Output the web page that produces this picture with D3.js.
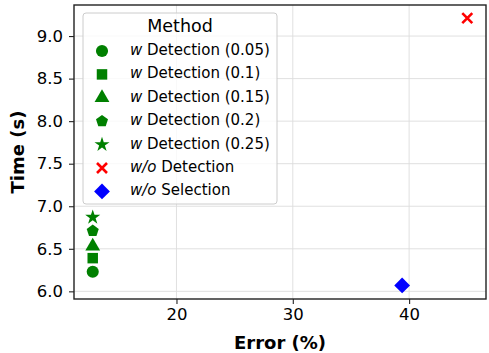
<!DOCTYPE html>
<html>
<head>
<meta charset="utf-8">
<script src="https://cdn.jsdelivr.net/npm/d3@7"></script>
<style>
  body { margin: 0; background: #fff; }
  text { font-family: "DejaVu Sans", sans-serif; fill: #000; }
</style>
</head>
<body>
<svg id="chart" width="489" height="353"></svg>
<script>
let svg = d3.select("#chart")

// data
let methods = [
  "w Detection (0.05)",
  "w Detection (0.1)",
  "w Detection (0.15)",
  "w Detection (0.2)",
  "w Detection (0.25)",
  "w/o Detection",
  "w/o Selection"
]
let errors = [12.8, 12.8, 12.8, 12.8, 12.8, 45.0, 39.4]
let times = [6.23, 6.39, 6.53, 6.71, 6.87, 9.21, 6.07]
let colors = ["green", "green", "green", "green", "green", "red", "blue"]
let shapes = ["circle", "square", "triangle", "pentagon", "star", "x", "diamond"]

let xTicks = [20, 30, 40]
let yTicks = [6.0, 6.5, 7.0, 7.5, 8.0, 8.5, 9.0]

let margin = { top: 5, right: 3, bottom: 54, left: 74 }
let width = 489, height = 353

let x = d3.scaleLinear()
    .domain([11.19, 46.61])
    .range([margin.left, width - margin.right])

let y = d3.scaleLinear()
    .domain([5.91, 9.365])
    .range([height - margin.bottom, margin.top])

// custom marker shapes
let pentagon = {
  draw(ctx, size) {
    let r = Math.sqrt(size / 2.378)
    for (let i = 0; i < 5; i++) {
      let a = -Math.PI / 2 + i * 2 * Math.PI / 5
      let px = r * Math.cos(a), py = r * Math.sin(a)
      if (i == 0) ctx.moveTo(px, py); else ctx.lineTo(px, py)
    }
    ctx.closePath()
  }
}
let diamond = {
  draw(ctx, size) {
    let r = Math.sqrt(size / 2)
    ctx.moveTo(0, -r); ctx.lineTo(r, 0); ctx.lineTo(0, r); ctx.lineTo(-r, 0)
    ctx.closePath()
  }
}
let cross = {
  draw(ctx, size) {
    let r = Math.sqrt(size) / 2
    ctx.moveTo(-r, -r); ctx.lineTo(r, r)
    ctx.moveTo(-r, r); ctx.lineTo(r, -r)
  }
}

function markerPath(shape) {
  if (shape == "circle") return d3.symbol(d3.symbolCircle, 115)()
  if (shape == "square") return d3.symbol(d3.symbolSquare, 110)()
  if (shape == "triangle") return d3.symbol(d3.symbolTriangle, 95)()
  if (shape == "pentagon") return d3.symbol(pentagon, 95)()
  if (shape == "star") return d3.symbol(d3.symbolStar, 70)()
  if (shape == "x") return d3.symbol(cross, 100)()
  if (shape == "diamond") return d3.symbol(diamond, 125)()
}

function drawMarker(g, shape, color) {
  let p = g.append("path").attr("d", markerPath(shape))
  if (shape == "x") {
    p.attr("fill", "none").attr("stroke", color).attr("stroke-width", 2.6)
  } else {
    p.attr("fill", color)
  }
}

// grid
let grid = svg.append("g")
grid.selectAll(".gx").data(xTicks).join("line")
    .attr("x1", d => x(d)).attr("x2", d => x(d))
    .attr("y1", margin.top).attr("y2", height - margin.bottom)
    .attr("stroke", "#dcdcdc").attr("stroke-width", 0.9)
grid.selectAll(".gy").data(yTicks).join("line")
    .attr("y1", d => y(d)).attr("y2", d => y(d))
    .attr("x1", margin.left).attr("x2", width - margin.right)
    .attr("stroke", "#dcdcdc").attr("stroke-width", 0.9)

// axes
let xAxis = svg.append("g")
    .attr("transform", `translate(0,${height - margin.bottom})`)
    .call(d3.axisBottom(x).tickValues(xTicks).tickSize(5).tickPadding(4).tickFormat(d3.format("d")))
xAxis.select(".domain").remove()
xAxis.selectAll("text").style("font-size", "16.5px").style("font-family", "DejaVu Sans")
xAxis.selectAll("line").attr("stroke", "#222").attr("stroke-width", 1.1)

let yAxis = svg.append("g")
    .attr("transform", `translate(${margin.left},0)`)
    .call(d3.axisLeft(y).tickValues(yTicks).tickSize(5).tickPadding(6).tickFormat(d3.format(".1f")))
yAxis.select(".domain").remove()
yAxis.selectAll("text").style("font-size", "16.5px").style("font-family", "DejaVu Sans")
yAxis.selectAll("line").attr("stroke", "#222").attr("stroke-width", 1.1)

// points
let pts = svg.append("g")
methods.forEach((m, i) => {
  let g = pts.append("g").attr("transform", `translate(${x(errors[i])},${y(times[i])})`)
  drawMarker(g, shapes[i], colors[i])
})

// frame
svg.append("rect")
    .attr("x", margin.left).attr("y", margin.top)
    .attr("width", width - margin.right - margin.left)
    .attr("height", height - margin.bottom - margin.top)
    .attr("fill", "none").attr("stroke", "#222").attr("stroke-width", 1.4)

// legend
let legend = svg.append("g")
legend.append("rect")
    .attr("x", 83).attr("y", 13).attr("width", 194).attr("height", 191)
    .attr("rx", 3)
    .attr("fill", "white").attr("fill-opacity", 0.8)
    .attr("stroke", "#cccccc").attr("stroke-width", 1)
legend.append("text")
    .attr("x", 180).attr("y", 32)
    .attr("text-anchor", "middle")
    .style("font-size", "17.5px")
    .text("Method")

methods.forEach((m, i) => {
  let rowY = 51 + i * 23.4
  let g = legend.append("g").attr("transform", `translate(102,${rowY})`)
  drawMarker(g, shapes[i], colors[i])
  let t = legend.append("text")
      .attr("x", 130).attr("y", rowY + 4)
      .style("font-size", "15px")
  let parts = m.split(" ")
  t.append("tspan").style("font-style", "italic").text(parts[0])
  t.append("tspan").text(" " + parts.slice(1).join(" "))
})

// axis labels
svg.append("text")
    .attr("x", (margin.left + width - margin.right) / 2)
    .attr("y", 349)
    .attr("text-anchor", "middle")
    .style("font-size", "18px").style("font-weight", "bold")
    .text("Error (%)")

svg.append("text")
    .attr("transform", `translate(24,${(margin.top + height - margin.bottom) / 2}) rotate(-90)`)
    .attr("text-anchor", "middle")
    .style("font-size", "18px").style("font-weight", "bold")
    .text("Time (s)")
</script>
</body>
</html>
